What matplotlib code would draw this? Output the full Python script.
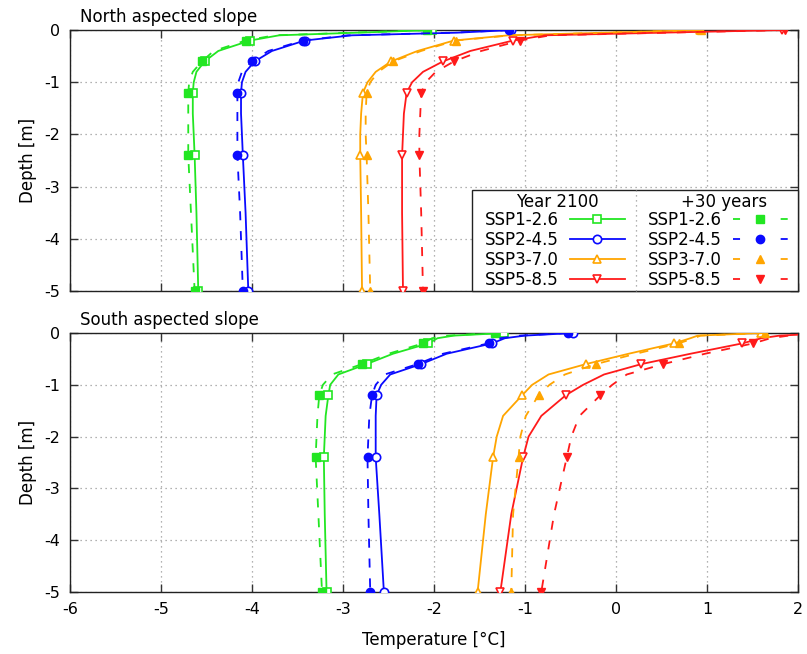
import matplotlib
matplotlib.use('Agg')
import matplotlib.pyplot as plt
from matplotlib.lines import Line2D
from matplotlib.patches import Rectangle

plt.rcParams['font.family'] = ['DejaVu Sans']
plt.rcParams['font.size'] = 12

# Depths [m] at which the profiles are read (markers at the depths in MARK_IDX)
depth = [0, 0.05, 0.1, 0.2, 0.4, 0.6, 0.8, 1.0, 1.2, 1.6, 2.0, 2.4, 3.5, 5.0]
MARK_IDX = [0, 3, 5, 8, 11, 13]

scenarios = ['SSP1-2.6', 'SSP2-4.5', 'SSP3-7.0', 'SSP5-8.5']
colors = ['#22e622', '#0a0aff', '#ffa500', '#ff1a1a']
markers = ['s', 'o', '^', 'v']

# North aspected slope, temperature [°C]
north_2100 = [
    [-2.02, -2.85, -3.70, -4.02, -4.37, -4.52, -4.61, -4.64, -4.65, -4.65, -4.64, -4.63, -4.61, -4.59],
    [-1.15, -1.75, -2.90, -3.42, -3.78, -3.97, -4.07, -4.11, -4.12, -4.12, -4.11, -4.10, -4.07, -4.04],
    [0.92, -0.12, -1.18, -1.78, -2.18, -2.47, -2.64, -2.73, -2.78, -2.80, -2.81, -2.81, -2.80, -2.79],
    [1.82, 0.50, -0.78, -1.13, -1.60, -1.90, -2.12, -2.24, -2.30, -2.33, -2.34, -2.35, -2.35, -2.34],
]
north_p30 = [
    [-2.08, -2.90, -3.75, -4.07, -4.42, -4.55, -4.65, -4.69, -4.70, -4.70, -4.70, -4.70, -4.67, -4.63],
    [-1.17, -1.80, -2.95, -3.44, -3.82, -4.00, -4.11, -4.15, -4.16, -4.16, -4.16, -4.16, -4.13, -4.10],
    [0.94, -0.10, -1.15, -1.76, -2.14, -2.45, -2.61, -2.70, -2.74, -2.75, -2.75, -2.74, -2.72, -2.70],
    [1.86, 0.55, -0.72, -1.05, -1.48, -1.78, -1.98, -2.09, -2.14, -2.15, -2.16, -2.16, -2.14, -2.12],
]

# South aspected slope, temperature [°C]
south_2100 = [
    [-1.23, -1.78, -1.96, -2.06, -2.45, -2.74, -3.05, -3.14, -3.16, -3.19, -3.20, -3.21, -3.20, -3.18],
    [-0.47, -1.00, -1.22, -1.36, -1.86, -2.14, -2.48, -2.58, -2.63, -2.64, -2.64, -2.64, -2.60, -2.55],
    [1.60, 0.90, 0.82, 0.64, 0.14, -0.33, -0.74, -0.92, -1.03, -1.24, -1.31, -1.35, -1.43, -1.52],
    [2.40, 1.80, 1.60, 1.39, 0.82, 0.28, -0.13, -0.36, -0.55, -0.82, -0.96, -1.02, -1.15, -1.27],
]
south_p30 = [
    [-1.33, -1.85, -2.02, -2.12, -2.50, -2.79, -3.12, -3.22, -3.26, -3.28, -3.29, -3.30, -3.27, -3.23],
    [-0.53, -1.05, -1.27, -1.40, -1.90, -2.18, -2.54, -2.64, -2.68, -2.71, -2.72, -2.73, -2.72, -2.70],
    [1.64, 0.93, 0.86, 0.69, 0.22, -0.22, -0.56, -0.73, -0.85, -0.99, -1.05, -1.07, -1.13, -1.15],
    [2.50, 1.90, 1.70, 1.51, 0.98, 0.52, 0.12, -0.04, -0.17, -0.40, -0.49, -0.54, -0.68, -0.82],
]

xticks = [-6, -5, -4, -3, -2, -1, 0, 1, 2]
yticks = [0, -1, -2, -3, -4, -5]

DASH = (5, 6)
LEG_DASH = (3.9, 22.5)   # dash - marker - dash look of the legend sample
LW = 1.3
MS = 6
GRID = dict(color='#999999', linestyle=(0, (1, 3)), lw=0.9)

fig = plt.figure(figsize=(8.07, 6.54), dpi=100)
ax_n = fig.add_axes([0.0867, 0.555, 0.902, 0.399])
ax_s = fig.add_axes([0.0867, 0.0948, 0.902, 0.396])

neg_depth = [-d for d in depth]


def draw_panel(ax, t2100, tp30, title):
    for i in range(len(scenarios)):
        ax.plot(t2100[i], neg_depth, color=colors[i], lw=LW, marker=markers[i],
                markevery=MARK_IDX, ms=MS, mfc='white', mec=colors[i], mew=1.2, zorder=3)
    for i in range(len(scenarios)):
        ax.plot(tp30[i], neg_depth, color=colors[i], lw=LW, dashes=DASH, marker=markers[i],
                markevery=MARK_IDX, ms=MS, mfc=colors[i], mec=colors[i], zorder=4)
    ax.set_xlim(-6, 2)
    ax.set_ylim(-5, 0)
    ax.set_xticks(xticks)
    ax.set_yticks(yticks)
    ax.set_yticklabels([str(v) for v in yticks])
    ax.grid(True, **GRID)
    ax.tick_params(direction='in', top=True, right=True, length=6, width=1,
                   color='#333333', labelsize=11.5, pad=7)
    for s in ax.spines.values():
        s.set_linewidth(1)
        s.set_color('#222222')
    ax.set_ylabel('Depth [m]', fontsize=12, labelpad=5)
    ax.text(0.014, 1.014, title, transform=ax.transAxes, ha='left', va='bottom', fontsize=12)


draw_panel(ax_n, north_2100, north_p30, 'North aspected slope')
draw_panel(ax_s, south_2100, south_p30, 'South aspected slope')

ax_n.tick_params(labelbottom=False)
ax_s.set_xticklabels([str(v) for v in xticks])
ax_s.set_xlabel('Temperature [°C]', fontsize=12, labelpad=10)

# legend: two columns, first row left blank for the column headers
blank = Line2D([], [], linestyle='none', marker=None)
handles = [blank]
labels = [' ']
for i in range(len(scenarios)):
    handles.append(Line2D([], [], color=colors[i], lw=LW, marker=markers[i], ms=MS,
                          mfc='white', mec=colors[i], mew=1.2))
    labels.append(scenarios[i])
handles.append(blank)
labels.append(' ')
for i in range(len(scenarios)):
    handles.append(Line2D([], [], color=colors[i], lw=LW, dashes=LEG_DASH, marker=markers[i],
                          ms=MS, mfc=colors[i], mec=colors[i]))
    labels.append(scenarios[i])

FS = 12
COLSP = 1.4
ax_w_px = 0.902 * 807
ax_h_px = 0.399 * 654
leg = ax_n.legend(handles, labels, ncol=2, loc='lower right',
                  bbox_to_anchor=(1 - 10 / ax_w_px, 2 / ax_h_px),
                  borderaxespad=0, markerfirst=False, frameon=False,
                  fontsize=FS, handlelength=3.3, handletextpad=0.66,
                  columnspacing=COLSP, labelspacing=0.12, borderpad=0)
leg.set_zorder(10)

# frame, headers and dotted column separator, placed from the laid-out legend
fig.canvas.draw()
inv = ax_n.transAxes.inverted()
px_per_pt = fig.dpi / 72.0
colsp = COLSP * FS * px_per_pt
texts = leg.get_texts()
lb = leg.get_window_extent()
axb = ax_n.get_window_extent()

ax0, ay0 = inv.transform((lb.x0 - 13, axb.y0))
ax1, ay1 = inv.transform((axb.x1, lb.y1 + 1))
ax_n.add_patch(Rectangle((ax0, ay0), ax1 - ax0, ay1 - ay0, transform=ax_n.transAxes,
                         facecolor='white', edgecolor='#222222', lw=1, zorder=9,
                         clip_on=False))

hdr = texts[0].get_window_extent()
hdr_y = hdr.y0 + hdr.height / 2 - 2
sep_x = texts[6].get_window_extent().x0 - colsp / 2
col1_c = (texts[1].get_window_extent().x0 + sep_x - colsp / 2) / 2 + 3
col2_c = (texts[6].get_window_extent().x0 + lb.x1) / 2 + 6

for cx, txt in [(col1_c, 'Year 2100'), (col2_c, '+30 years')]:
    tx, ty = inv.transform((cx, hdr_y))
    ax_n.text(tx, ty, txt, transform=ax_n.transAxes, ha='center', va='center',
              fontsize=FS, zorder=12)

sx, _ = inv.transform((sep_x, lb.y0))
ax_n.add_line(Line2D([sx, sx], [ay0, ay1], transform=ax_n.transAxes, zorder=11,
                     clip_on=False, **GRID))

fig.savefig('out.png', dpi=100)
